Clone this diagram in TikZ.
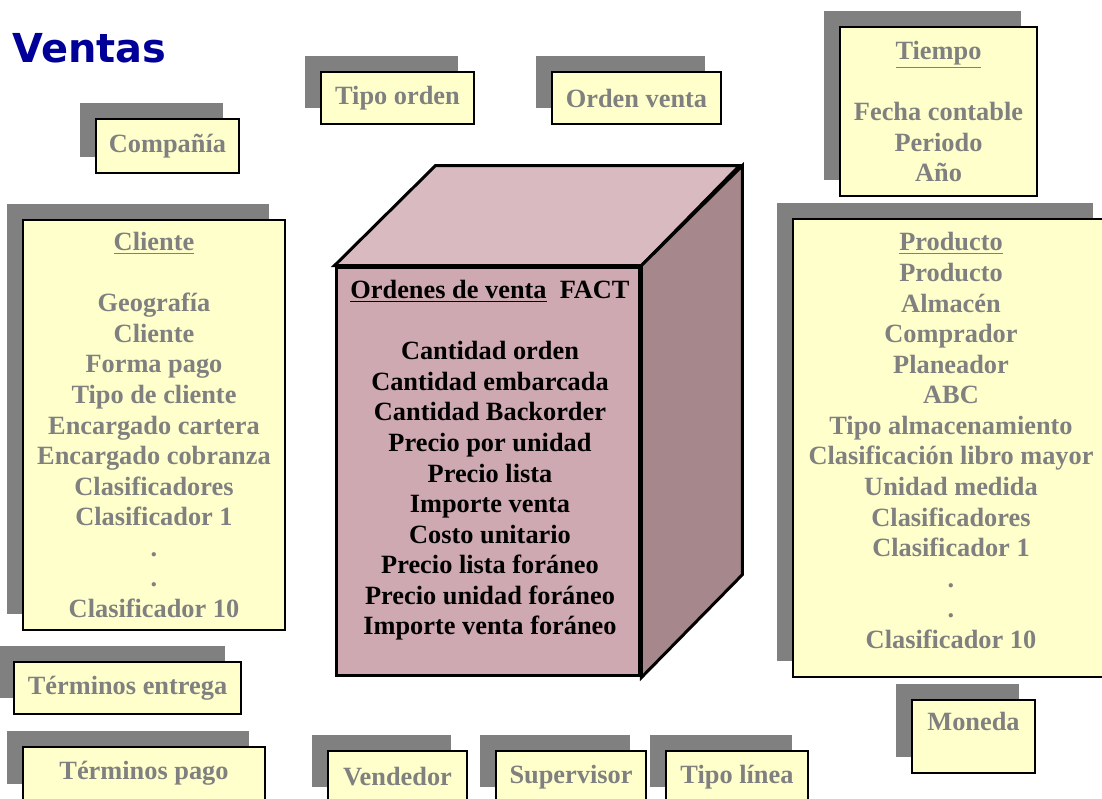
\documentclass[tikz,border=0pt]{standalone}
\usepackage{fontspec}
\setmainfont{Liberation Serif}
\newfontfamily\titlefont{DejaVu Sans}
\usepackage{tikz}
\usetikzlibrary{shadows,calc}
\definecolor{dimfill}{HTML}{FFFFCC}
\definecolor{dimtext}{HTML}{808080}
\definecolor{dimshadow}{HTML}{808080}
\definecolor{facttop}{HTML}{D9BAC0}
\definecolor{factfront}{HTML}{CEA9B1}
\definecolor{factside}{HTML}{A6878C}
\definecolor{ventasblue}{HTML}{000099}
\tikzset{%
    dim/.style 2 args={draw=black,line width=1.5pt,fill=dimfill,text=dimtext,
        minimum width=#1cm,minimum height=#2cm,inner sep=0pt,align=center,
        font=\bfseries\fontsize{15}{17.4}\selectfont,
        drop shadow={shadow xshift=-0.32cm,shadow yshift=0.32cm,fill=dimshadow,opacity=1}},
    face/.style={draw=black,line width=1.7pt,line join=miter},
}
\newcommand{\blankline}{\\[\baselineskip]}

\begin{document}
\begin{tikzpicture}[x=0.02cm,y=-0.02cm]
    \useasboundingbox[fill=white] (0,0) rectangle (1102,798);
    \node [anchor=base west,text=ventasblue,inner sep=0pt,font=\titlefont\bfseries\fontsize{22.7}{27}\selectfont] (ventas) at (12,62) {Ventas};
    % dimensiones
    \node [dim={2.86}{1.08}] (compania) at (167.5,146) {Compañía};
    \node [dim={3.06}{1.04}] (tipoorden) at (397.5,98) {Tipo orden};
    \node [dim={3.38}{1.04}] (ordenventa) at (636.5,98) {Orden venta};
    \node [dim={3.94}{3.38}] (tiempo) at (938.5,111.5) {\underline{Tiempo}\blankline Fecha contable\\ Periodo\\ Año};
    \node [dim={5.24}{8.2}] (cliente) at (154,425) {\underline{Cliente}\blankline Geografía\\ Cliente\\ Forma pago\\ Tipo de cliente\\ Encargado cartera\\ Encargado cobranza\\ Clasificadores\\ Clasificador 1\\ .\\ .\\ Clasificador 10};
    \node [dim={6.32}{9.16},text depth=0.3cm] (producto) at (951,448) {\underline{Producto}\\ Producto\\ Almacén\\ Comprador\\ Planeador\\ ABC\\ Tipo almacenamiento\\ Clasificación libro mayor\\ Unidad medida\\ Clasificadores\\ Clasificador 1\\ .\\ .\\ Clasificador 10};
    \node [dim={4.54}{1.04}] (terminosentrega) at (127.5,688) {Términos entrega};
    \node [dim={4.84}{1.06}] (terminospago) at (144,773.5) {Términos pago};
    \node [dim={2.78}{1.04}] (vendedor) at (397.5,777) {Vendedor};
    \node [dim={3.0}{1.04}] (supervisor) at (571,777) {Supervisor};
    \node [dim={2.84}{1.04}] (tipolinea) at (737,777) {Tipo línea};
    \node [dim={2.46}{1.46},text depth=0.6cm] (moneda) at (973.5,736.5) {Moneda};
    % cubo de hechos
    \node [face,fill=factfront,minimum width=6.08cm,minimum height=8.18cm,inner sep=0pt] (fact) at (488,471.5) {};
    \filldraw [face,fill=facttop] (fact.north west) -- ++(101,-100) -- ++(304,0) -- (fact.north east) -- cycle;
    \filldraw [face,fill=factside] (fact.north east) -- ++(101,-100) -- ++(0,409) -- (fact.south east) -- cycle;
    \node [anchor=north,inner sep=0pt,align=center,font=\bfseries\fontsize{15}{17.4}\selectfont] (factlist) at (490,280)
        {\underline{Ordenes de venta}\ \ FACT\blankline Cantidad orden\\ Cantidad embarcada\\ Cantidad Backorder\\ Precio por unidad\\ Precio lista\\ Importe venta\\ Costo unitario\\ Precio lista foráneo\\ Precio unidad foráneo\\ Importe venta foráneo};
\end{tikzpicture}
\end{document}
